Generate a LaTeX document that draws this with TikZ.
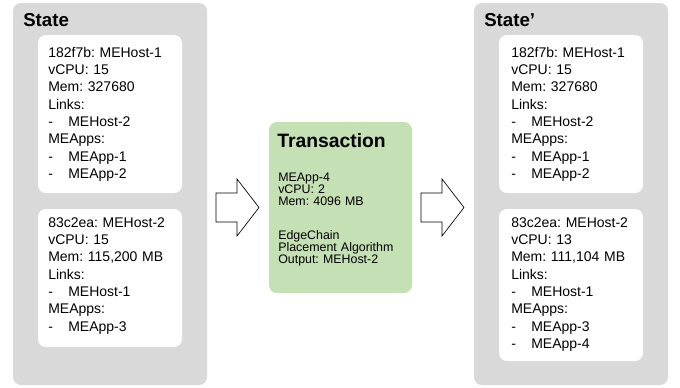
\documentclass[tikz,border=0pt]{standalone}
\usepackage{fontspec}
\setmainfont{Liberation Sans}
\usetikzlibrary{calc}
\usetikzlibrary{fit}
\definecolor{stategray}{HTML}{D9D9D9}
\definecolor{txgreen}{HTML}{C5E0B4}

\tikzset{
 statebox/.style={fill=stategray, rounded corners=6pt, inner sep=0},
 hostbox/.style={fill=white, rounded corners=6pt, inner sep=0},
 txbox/.style={fill=txgreen, rounded corners=6pt, inner sep=0},
 boxtitle/.style={anchor=base west, inner sep=0, font=\fontsize{14}{16}\selectfont\bfseries},
 hosttext/.style={anchor=base west, inner sep=0, text width=100pt, align=left, font=\fontsize{10.5}{13}\selectfont},
 txtext/.style={anchor=base west, inner sep=0, text width=100pt, align=left, font=\fontsize{9.3}{9.2}\selectfont},
 blockarrow/.style={draw=black, fill=white, line width=0.5pt, line join=miter}
}
\newcommand{\dashitem}[1]{\makebox[15pt][l]{-}#1}
\frenchspacing

\begin{document}
\begin{tikzpicture}[x=0.75pt,y=-0.75pt]
\useasboundingbox (0,0) rectangle (680,387);
% state boxes
\node[statebox, fit={(13,3) (207,385)}] (state) {};
\node[statebox, fit={(474,3) (668,385)}] (newstate) {};
\node[boxtitle] (statetitle) at (23,26) {State};
\node[boxtitle] (newstatetitle) at (484,26) {State’};
% hosts before
\node[hostbox, fit={(38,35) (182,193)}] (hostA) {};
\node[hostbox, fit={(38,209) (182,347)}] (hostB) {};
\node[hosttext] (hostAtext) at (48,57) {182f7b: MEHost-1\\ vCPU: 15\\ Mem: 327680\\ Links:\\ \dashitem{MEHost-2}\\ MEApps:\\ \dashitem{MEApp-1}\\ \dashitem{MEApp-2}};
\node[hosttext] (hostBtext) at (48,227) {83c2ea: MEHost-2\\ vCPU: 15\\ Mem: 115,200 MB\\ Links:\\ \dashitem{MEHost-1}\\ MEApps:\\ \dashitem{MEApp-3}};
% hosts after
\node[hostbox, fit={(499,35) (643,193)}] (newhostA) {};
\node[hostbox, fit={(499,209) (643,361)}] (newhostB) {};
\node[hosttext] (newhostAtext) at (511,57) {182f7b: MEHost-1\\ vCPU: 15\\ Mem: 327680\\ Links:\\ \dashitem{MEHost-2}\\ MEApps:\\ \dashitem{MEApp-1}\\ \dashitem{MEApp-2}};
\node[hosttext] (newhostBtext) at (511,227) {83c2ea: MEHost-2\\ vCPU: 13\\ Mem: 111,104 MB\\ Links:\\ \dashitem{MEHost-1}\\ MEApps:\\ \dashitem{MEApp-3}\\ \dashitem{MEApp-4}};
% transaction
\node[txbox, fit={(269,122) (412,293)}] (tx) {};
\node[boxtitle, font=\fontsize{14.5}{16}\selectfont\bfseries] (txtitle) at (277,147) {Transaction};
\node[txtext] (txtext) at (278,181) {MEApp-4\\ vCPU: 2\\ Mem: 4096 MB\\[16pt] EdgeChain\\ Placement Algorithm\\ Output: MEHost-2};
% block arrows
\coordinate (inarrow) at ($(state.east|-tx.west)!.5!(tx.west)$);
\coordinate (outarrow) at ($(tx.east)!.5!(newstate.west|-tx.east)$);
\foreach \c in {inarrow, outarrow} {
 \draw[blockarrow] ([shift={(-22,-14.5)}]\c) --++(21,0) --++(0,-14) --++(22,28.5) --++(-22,28.5) --++(0,-14) --++(-21,0) -- cycle;
}
\end{tikzpicture}
\end{document}
